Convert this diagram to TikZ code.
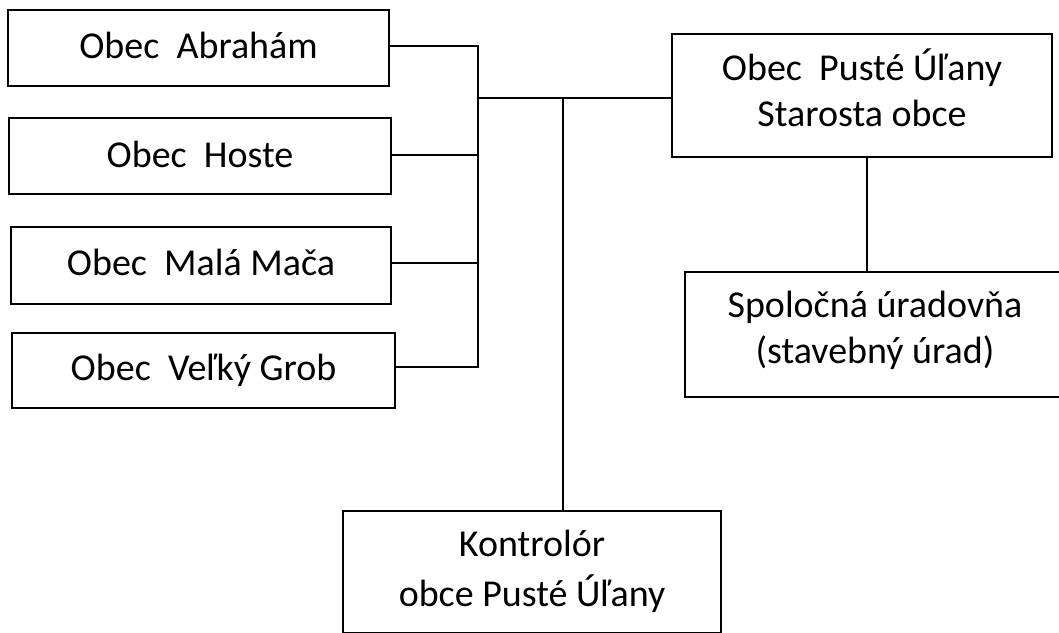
\documentclass[tikz,border=0pt]{standalone}
\usepackage{fontspec}
\setmainfont{Carlito}
\newcommand\orgtext[3]{\raisebox{0pt}[#1][#2]{\begin{tabular}[b]{@{}c@{}}#3\end{tabular}}}
\begin{document}
\begin{tikzpicture}[x=1pt,y=-1pt,
  orgbox/.style={draw=black, line width=1.6pt, inner sep=0pt,
    font=\fontsize{38}{46}\selectfont},
  link/.style={draw=black, line width=1.5pt, line join=miter}]
\useasboundingbox (0,0) rectangle (1059,632);
\fill[white] (0,0) rectangle (1059,632);
\clip (0,0) rectangle (1059,632);
% boxes
\node[orgbox, minimum width=381] (A) at (198.5,48) {\orgtext{48.5pt}{27.5pt}{Obec\ \ Abrahám}};
\node[orgbox, minimum width=382] (H) at (200,156) {\orgtext{49pt}{27pt}{Obec\ \ Hoste}};
\node[orgbox, minimum width=380] (M) at (201,265.5) {\orgtext{48.5pt}{28.5pt}{Obec\ \ Malá Mača}};
\node[orgbox, minimum width=383] (V) at (203.5,370.5) {\orgtext{47pt}{28pt}{Obec\ \ Veľký Grob}};
\node[orgbox, minimum width=380] (P) at (862,95.5) {\orgtext{92pt}{31pt}{Obec\ \ Pusté Úľany\\Starosta obce}};
\node[orgbox, minimum width=380] (S) at (875,334.5) {\orgtext{91pt}{34pt}{Spoločná úradovňa\\(stavebný úrad)}};
\node[orgbox, minimum width=378, font=\fontsize{38}{50}\selectfont] (K) at (532,572) {\orgtext{95pt}{27pt}{Kontrolór\\obce Pusté Úľany}};
% junction coordinates
\coordinate (ca) at (478,46);
\coordinate (ch) at (478,155);
\coordinate (cm) at (478,263);
\coordinate (cv) at (478,367);
\coordinate (j) at (478,98);
\coordinate (kj) at (563,98);
\coordinate (sx) at (867,157);
% connectors
\draw[link] (ca -| A.east) -- (ca) -- (cv) -- (cv -| V.east);
\draw[link] (ch -| H.east) -- (ch);
\draw[link] (cm -| M.east) -- (cm);
\draw[link] (j) -- (P.west |- j);
\draw[link] (kj) -- (kj |- K.north);
\draw[link] (P.south -| sx) -- (S.north -| sx);
\end{tikzpicture}
\end{document}
